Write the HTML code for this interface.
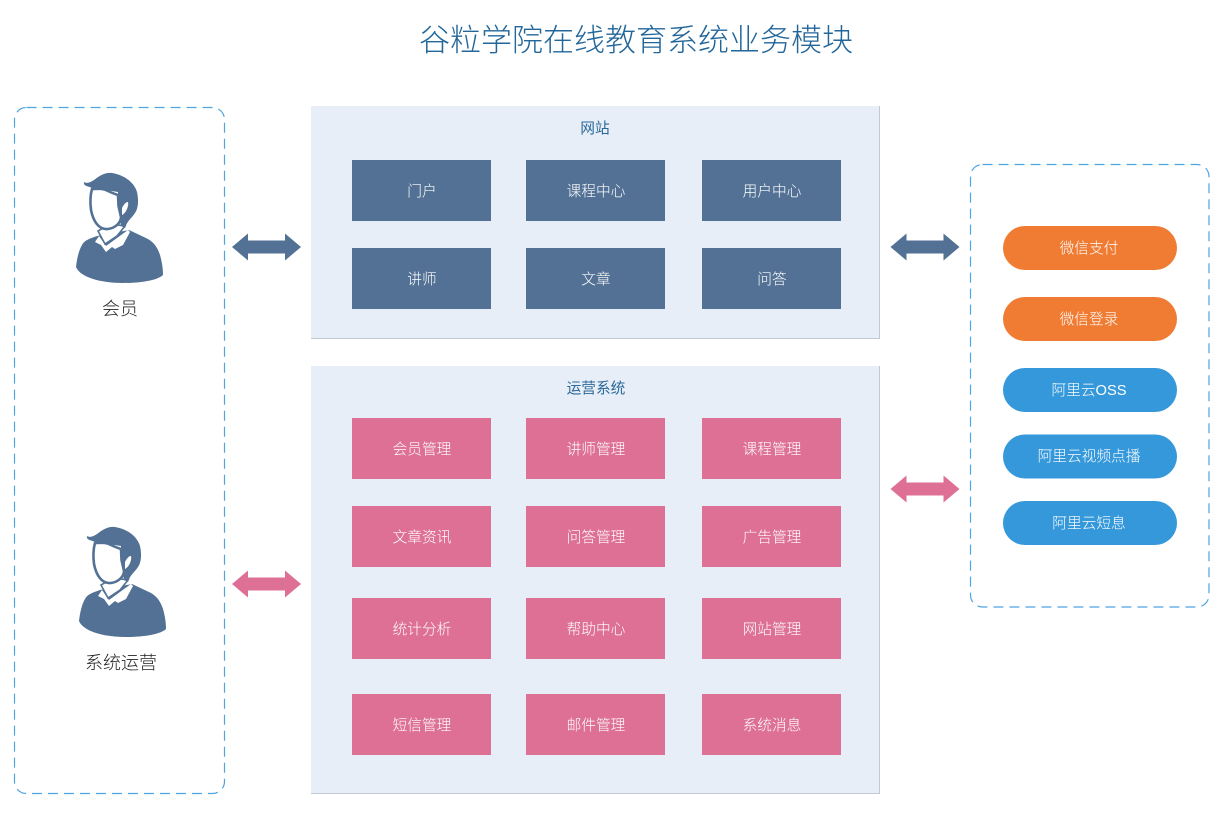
<!DOCTYPE html>
<html lang="zh">
<head>
<meta charset="utf-8">
<title>谷粒学院在线教育系统业务模块</title>
<style>
html,body{margin:0;padding:0;background:#fff;width:1222px;height:829px;overflow:hidden}
svg{display:block}
text{font-family:"Liberation Sans","Noto Sans CJK SC","WenQuanYi Zen Hei",sans-serif;font-weight:300;text-anchor:middle}
.w{fill:#fff;font-size:14.7px}
.t{fill:#2a6898;font-size:14.7px;font-weight:400}
.k{fill:#222;font-size:18px}
.b{fill:#527194}
.p{fill:#de7096}
</style>
</head>
<body>
<svg width="1222" height="829" viewBox="0 0 1222 829" xmlns="http://www.w3.org/2000/svg">
<defs>
<g id="person">
<path class="b" d="M76 267C77 258 79 250 82 245C84 241 88 239 97 236L129 230L148 239C155 243 158 249 160 255C162 262 163 269 163 275C158 280 142 283 123 283C100 283 80 277 76 267Z"/>
<path fill="#fff" d="M95 242L99 236L106 246L128 230L130 232L123 245L115 249L112 247L106 252L101 245Z"/>
<path fill="#fff" stroke="#527194" stroke-width="1.6" d="M98 231L105 244L117 236L125 226L110 224Z"/>
<path class="b" d="M84 182C87 184 91 182 94 180C99 176 105 172 112 173C124 175 134 182 137 192C139 201 138 209 135 213C131 219 127 221 125 228L121 226L118 205L118 192L92 188C88 186 83 186 84 182Z"/>
<path fill="#fff" stroke="#527194" stroke-width="2.6" d="M92 189C97 189 103 188 108 191C112 193 115 194 118 195L118.500 206L121 217C121 222 116 228 108 229C98 230 93 220 91 210C90 202 90 196 92 189Z"/>
<path fill="#fff" d="M122 208C124 204 126 202 128 202C129 206 126 213 122 215Z"/>
</g>
<path id="arrow" d="M0 13L16 -0.500V6.500H53V-0.500L69 13L53 26.500V19.500H16V26.500Z"/>
</defs>

<text x="636" y="51" fill="#22669a" style="font-size:31px">谷粒学院在线教育系统业务模块</text>

<rect x="14.500" y="107.500" width="210" height="686" rx="12" fill="#fff" stroke="#4ea5e0" stroke-width="1.200" stroke-dasharray="10 6"/>
<rect x="970.500" y="164.500" width="238.500" height="442.500" rx="12" fill="#fff" stroke="#4ea5e0" stroke-width="1.200" stroke-dasharray="10 6"/>

<use href="#person"/>
<use href="#person" x="3" y="354"/>
<text class="k" x="120" y="315">会员</text>
<text class="k" x="121" y="669">系统运营</text>

<rect x="311" y="106" width="569" height="233" fill="#e7eef8"/>
<path d="M879.500 106V338.500H311" fill="none" stroke="#c3c9d2"/>
<rect x="311" y="366" width="569" height="428" fill="#e7eef8"/>
<path d="M879.500 366V793.500H311" fill="none" stroke="#c3c9d2"/>

<text class="t" x="595" y="133">网站</text>
<text class="t" x="596" y="393">运营系统</text>

<g class="b">
<rect x="352" y="160" width="139" height="61"/><rect x="526" y="160" width="139" height="61"/><rect x="702" y="160" width="139" height="61"/>
<rect x="352" y="248" width="139" height="61"/><rect x="526" y="248" width="139" height="61"/><rect x="702" y="248" width="139" height="61"/>
</g>
<g class="p">
<rect x="352" y="418" width="139" height="61"/><rect x="526" y="418" width="139" height="61"/><rect x="702" y="418" width="139" height="61"/>
<rect x="352" y="506" width="139" height="61"/><rect x="526" y="506" width="139" height="61"/><rect x="702" y="506" width="139" height="61"/>
<rect x="352" y="598" width="139" height="61"/><rect x="526" y="598" width="139" height="61"/><rect x="702" y="598" width="139" height="61"/>
<rect x="352" y="694" width="139" height="61"/><rect x="526" y="694" width="139" height="61"/><rect x="702" y="694" width="139" height="61"/>
</g>

<g class="w">
<text class="w" x="422" y="196">门户</text><text class="w" x="596" y="196">课程中心</text><text class="w" x="772" y="196">用户中心</text>
<text class="w" x="422" y="284">讲师</text><text class="w" x="596" y="284">文章</text><text class="w" x="772" y="284">问答</text>
<text class="w" x="422" y="454">会员管理</text><text class="w" x="596" y="454">讲师管理</text><text class="w" x="772" y="454">课程管理</text>
<text class="w" x="422" y="542">文章资讯</text><text class="w" x="596" y="542">问答管理</text><text class="w" x="772" y="542">广告管理</text>
<text class="w" x="422" y="634">统计分析</text><text class="w" x="596" y="634">帮助中心</text><text class="w" x="772" y="634">网站管理</text>
<text class="w" x="422" y="730">短信管理</text><text class="w" x="596" y="730">邮件管理</text><text class="w" x="772" y="730">系统消息</text>
</g>

<use href="#arrow" class="b" x="232" y="234"/>
<use href="#arrow" class="b" x="890.500" y="234"/>
<use href="#arrow" class="p" x="232" y="571"/>
<use href="#arrow" class="p" x="890.500" y="476"/>

<rect x="1003" y="226" width="174" height="44" rx="22" fill="#f07c33"/>
<rect x="1003" y="297" width="174" height="44" rx="22" fill="#f07c33"/>
<rect x="1003" y="368" width="174" height="44" rx="22" fill="#3498db"/>
<rect x="1003" y="434.500" width="174" height="44" rx="22" fill="#3498db"/>
<rect x="1003" y="501" width="174" height="44" rx="22" fill="#3498db"/>

<text class="w" x="1089" y="253">微信支付</text>
<text class="w" x="1089" y="324">微信登录</text>
<text class="w" x="1089" y="395">阿里云OSS</text>
<text class="w" x="1089" y="461">阿里云视频点播</text>
<text class="w" x="1089" y="528">阿里云短息</text>
</svg>
</body>
</html>
